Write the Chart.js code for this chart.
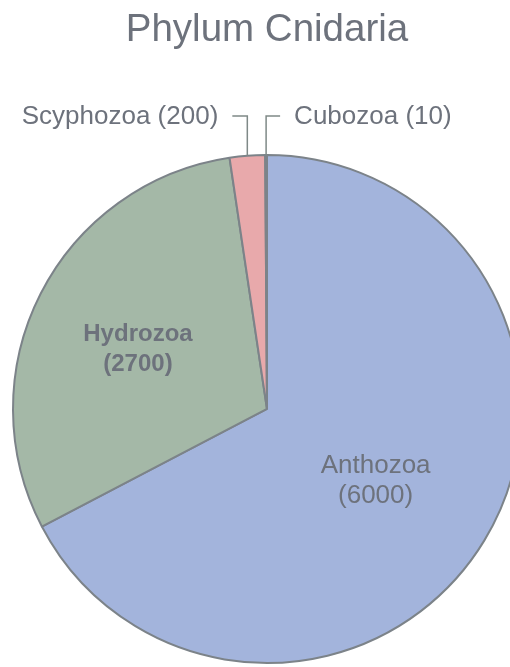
<!DOCTYPE html>
<html>
<head>
<meta charset="utf-8">
<script src="https://cdn.jsdelivr.net/npm/chart.js@4.4.0/dist/chart.umd.min.js"></script>
<style>
  html, body { margin: 0; padding: 0; background: #fff; overflow: hidden; }
  #wrap { width: 510px; height: 667px; overflow: hidden; position: relative; }
  canvas { position: absolute; left: 0; top: 0; }
</style>
</head>
<body>
<div id="wrap"><canvas id="pie" width="534" height="667"></canvas></div>
<script>
const classes = ["Anthozoa", "Hydrozoa", "Scyphozoa", "Cubozoa"];
const species = [6000, 2700, 200, 10];
const sliceColors = ["#a3b4dc", "#a4b8a7", "#e8a9ab", "#e3a3a6"];
// inside labels only for the big slices, outside ones get leader lines
const insideLabel = [true, true, false, false];
const labelDepth = [0.5, 0.57, 0, 0];

const textGray = "#6d727c";
const lineGray = "#7f8987";

const labelPlugin = {
  id: "sliceLabels",
  afterDraw(chart) {
    const ctx = chart.ctx;
    const arcs = chart.getDatasetMeta(0).data;
    ctx.save();
    arcs.forEach((arc, i) => {
      const { x, y, startAngle, endAngle, outerRadius } = arc.getProps(["x", "y", "startAngle", "endAngle", "outerRadius"], true);
      const mid = (startAngle + endAngle) / 2;
      const text = classes[i];
      const num = `(${species[i]})`;
      if (insideLabel[i]) {
        const r = outerRadius * labelDepth[i];
        const lx = x + Math.cos(mid) * r;
        const ly = y + Math.sin(mid) * r + 6;
        ctx.fillStyle = textGray;
        ctx.textAlign = "center";
        ctx.textBaseline = "middle";
        ctx.font = (i === 1 ? "bold 24px" : "26px") + " 'Liberation Sans', Arial, sans-serif";
        ctx.fillText(text, lx, ly - 15);
        ctx.fillText(num, lx, ly + 15);
      } else {
        const ex = x + Math.cos(mid) * outerRadius;
        const ey = y + Math.sin(mid) * outerRadius;
        const topY = y - outerRadius - 39;
        const left = i === 2;
        const hx = left ? ex - 15 : ex + 14;
        ctx.strokeStyle = lineGray;
        ctx.lineWidth = 1.5;
        ctx.beginPath();
        ctx.moveTo(ex, ey);
        ctx.lineTo(ex, topY);
        ctx.lineTo(hx, topY);
        ctx.stroke();
        ctx.fillStyle = textGray;
        ctx.textBaseline = "middle";
        ctx.font = "26px 'Liberation Sans', Arial, sans-serif";
        ctx.textAlign = left ? "right" : "left";
        ctx.fillText(`${text} ${num}`, left ? hx - 14 : hx + 14, topY + 1);
      }
    });
    ctx.restore();
  }
};

new Chart(document.getElementById("pie"), {
  type: "pie",
  data: {
    labels: classes,
    datasets: [{
      data: species,
      backgroundColor: sliceColors,
      borderColor: "#7c8389",
      borderWidth: 2,
      radius: 254
    }]
  },
  options: {
    responsive: false,
    animation: false,
    layout: { padding: { top: 0, bottom: 4, left: 0, right: 0 } },
    plugins: {
      legend: { display: false },
      tooltip: { enabled: false },
      title: {
        display: true,
        text: "Phylum Cnidaria",
        color: "#6d727c",
        font: { family: "'Liberation Sans', Arial, sans-serif", size: 38.5, weight: "normal", lineHeight: 1.15 },
        padding: { top: 8, bottom: 102.7 }
      }
    }
  },
  plugins: [labelPlugin]
});
</script>
</body>
</html>
